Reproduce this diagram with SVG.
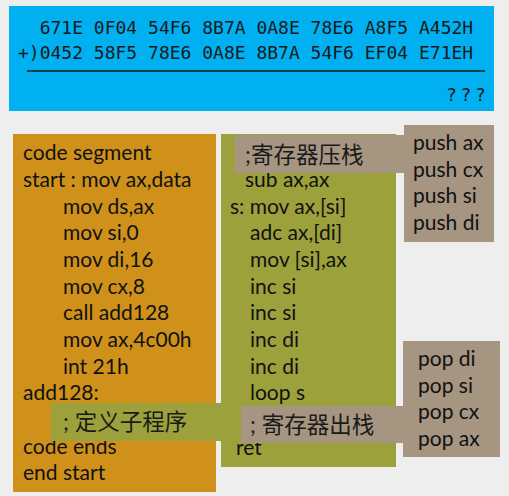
<svg xmlns="http://www.w3.org/2000/svg" width="509" height="496" viewBox="0 0 509 496">
<style>
.mono{font-family:"DejaVu Sans Mono","Liberation Mono",monospace;font-size:18px;fill:#1a1a1a}
.code{font-family:Lato,"Liberation Sans",sans-serif;font-size:21px;fill:#111}
.cjk{font-family:Lato,"Noto Sans CJK SC",sans-serif;font-size:22.5px;fill:#1a1a1a}
.gray{fill:#a69581}
.olive{fill:#9ca13c}
</style>
<rect width="509" height="496" fill="#eeeeee"/>
<g id="sum-box">
<rect x="9" y="6" width="485" height="105" fill="#00b0f0"/>
<text class="mono" x="18" y="34" xml:space="preserve">  671E 0F04 54F6 8B7A 0A8E 78E6 A8F5 A452H</text>
<text class="mono" x="18" y="59">+)0452 58F5 78E6 0A8E 8B7A 54F6 EF04 E71EH</text>
<line x1="27" y1="71" x2="485" y2="71" stroke="#1a1a1a" stroke-width="1.3"/>
<text class="mono" x="446" y="101" letter-spacing="-3.6">? ? ?</text>
</g>
<g id="main-code">
<rect x="13" y="134" width="203" height="358" fill="#cf9119"/>
<text class="code" x="23" y="160">code segment</text>
<text class="code" x="23" y="187">start : mov ax,data</text>
<text class="code" x="63" y="214">mov ds,ax</text>
<text class="code" x="63" y="240">mov si,0</text>
<text class="code" x="63" y="267">mov di,16</text>
<text class="code" x="63" y="294">mov cx,8</text>
<text class="code" x="63" y="320">call add128</text>
<text class="code" x="63" y="347">mov ax,4c00h</text>
<text class="code" x="63" y="374">int 21h</text>
<text class="code" x="23" y="400">add128:</text>
<text class="code" x="23" y="454">code ends</text>
<text class="code" x="23" y="480">end start</text>
</g>
<g id="sub-code">
<rect class="olive" x="221" y="134" width="175" height="333"/>
<text class="code" x="245" y="187">sub ax,ax</text>
<text class="code" x="230" y="214">s: mov ax,[si]</text>
<text class="code" x="250" y="240">adc ax,[di]</text>
<text class="code" x="250" y="267">mov [si],ax</text>
<text class="code" x="250" y="294">inc si</text>
<text class="code" x="250" y="320">inc si</text>
<text class="code" x="250" y="347">inc di</text>
<text class="code" x="250" y="374">inc di</text>
<text class="code" x="250" y="400">loop s</text>
<text class="code" x="236" y="455">ret</text>
</g>
<g id="sub-comment">
<rect class="olive" x="51" y="403" width="171" height="38"/>
<text class="cjk" x="63" y="430">; 定义子程序</text>
</g>
<g id="push-comment">
<rect class="gray" x="235" y="135" width="170" height="38"/>
<text class="cjk" x="245" y="163">;寄存器压栈</text>
</g>
<g id="push-box">
<rect class="gray" x="404" y="125" width="90" height="117"/>
<text class="code" x="413" y="150">push ax</text>
<text class="code" x="413" y="177">push cx</text>
<text class="code" x="413" y="203">push si</text>
<text class="code" x="413" y="230">push di</text>
</g>
<g id="pop-comment">
<rect class="gray" x="241" y="406" width="163" height="37"/>
<text class="cjk" x="250" y="433">; 寄存器出栈</text>
</g>
<g id="pop-box">
<rect class="gray" x="403" y="341" width="97" height="116"/>
<text class="code" x="418" y="366">pop di</text>
<text class="code" x="418" y="393">pop si</text>
<text class="code" x="418" y="419">pop cx</text>
<text class="code" x="418" y="446">pop ax</text>
</g>
<g id="connectors"/>
</svg>
